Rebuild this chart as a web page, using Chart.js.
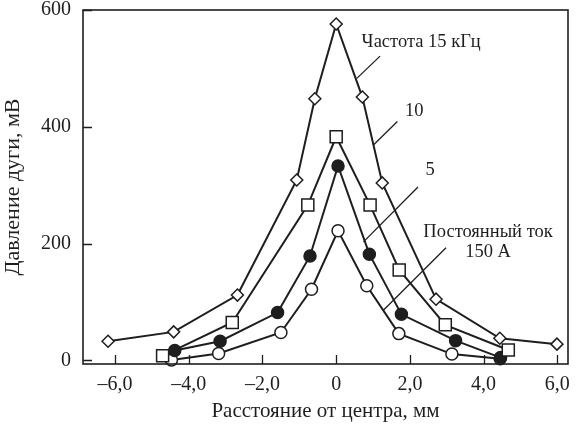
<!DOCTYPE html>
<html>
<head>
<meta charset="utf-8">
<script src="https://cdn.jsdelivr.net/npm/chart.js@4/dist/chart.umd.min.js"></script>
<style>
	html, body { margin: 0; padding: 0; background: #fff; }
	#wrap { width: 578px; height: 424px; }
</style>
</head>
<body>
<div id="wrap"><canvas id="chart"></canvas></div>
<script>
// distance from centre, mm / arc pressure, mV
const freq15X = [-6.19, -4.41, -2.68, -1.07, -0.58, 0.0, 0.71, 1.25, 2.71, 4.44, 5.99];
const freq15Y = [33, 49, 112, 309, 448, 576, 451, 304, 105, 38, 28];
const freq10X = [-4.71, -2.82, -0.77, 0.0, 0.92, 1.71, 2.96, 4.67];
const freq10Y = [8, 65, 266, 383, 266, 155, 61, 18];
const freq5X = [-4.38, -3.15, -1.59, -0.71, 0.05, 0.9, 1.77, 3.24, 4.46];
const freq5Y = [17, 33, 82, 179, 333, 182, 79, 34, 5];
const dcX = [-4.47, -3.19, -1.5, -0.67, 0.05, 0.83, 1.7, 3.14, 4.45];
const dcY = [1, 12, 48, 122, 222, 128, 46, 11, 3];

const xTicks = [-6, -4, -2, 0, 2, 4, 6];
const xTickLabels = ['–6,0', '–4,0', '–2,0', '0', '2,0', '4,0', '6,0'];
const yTicks = [0, 200, 400, 600];
const yTickLabels = ['0', '200', '400', '600'];

const seriesLabels = ['Частота 15 кГц', '10', '5', 'Постоянный ток 150 А'];

// callout labels with leader lines, in data units
const callouts = [
	{ text: ['Частота 15 кГц'], tx: 0.69, ty: 545, align: 'left', line: [1.19, 521, 0.56, 483] },
	{ text: ['10'], tx: 1.87, ty: 427, align: 'left', line: [1.66, 409, 1.01, 369] },
	{ text: ['5'], tx: 2.55, ty: 326, align: 'center', line: [2.22, 297, 0.74, 203] },
	{ text: ['Постоянный ток', '150 А'], tx: 4.12, ty: 220, align: 'center', line: [2.98, 193, 1.28, 86] }
];

const ink = '#1e1e1e';
const serif = '"Liberation Serif", "Times New Roman", serif';

const toPoints = (xs, ys) => xs.map((x, i) => ({ x: x, y: ys[i] }));

const makeSet = (label, xs, ys, style, radius, fill) => ({
	label: label,
	data: toPoints(xs, ys),
	borderColor: ink,
	borderWidth: 2,
	pointStyle: style,
	pointRadius: radius,
	pointHoverRadius: radius,
	pointBackgroundColor: fill,
	pointBorderColor: ink,
	pointBorderWidth: 1.5,
	tension: 0,
	clip: false
});

const framePlugin = {
	id: 'frame',
	afterDraw(chart) {
		const { ctx, chartArea: a, scales } = chart;
		ctx.save();
		ctx.strokeStyle = ink;
		ctx.lineWidth = 1.6;
		ctx.strokeRect(a.left, a.top, a.right - a.left, a.bottom - a.top);

		// inward tick marks
		ctx.lineWidth = 1.3;
		ctx.beginPath();
		xTicks.forEach(v => {
			const px = Math.round(scales.x.getPixelForValue(v)) + 0.5;
			ctx.moveTo(px, a.bottom);
			ctx.lineTo(px, a.bottom - 9);
		});
		yTicks.forEach(v => {
			const py = Math.round(scales.y.getPixelForValue(v)) + 0.5;
			ctx.moveTo(a.left, py);
			ctx.lineTo(a.left + 9, py);
		});
		ctx.stroke();

		// callouts
		ctx.fillStyle = ink;
		ctx.font = '18.5px ' + serif;
		ctx.textBaseline = 'middle';
		callouts.forEach(c => {
			const [x1, y1, x2, y2] = c.line;
			ctx.beginPath();
			ctx.moveTo(scales.x.getPixelForValue(x1), scales.y.getPixelForValue(y1));
			ctx.lineTo(scales.x.getPixelForValue(x2), scales.y.getPixelForValue(y2));
			ctx.stroke();
			ctx.textAlign = c.align;
			const tx = scales.x.getPixelForValue(c.tx);
			const ty = scales.y.getPixelForValue(c.ty);
			c.text.forEach((t, i) => ctx.fillText(t, tx, ty + i * 20));
		});
		ctx.restore();
	}
};

new Chart(document.getElementById('chart'), {
	type: 'line',
	data: {
		datasets: [
			makeSet(seriesLabels[0], freq15X, freq15Y, 'rectRot', 6, '#fff'),
			makeSet(seriesLabels[1], freq10X, freq10Y, 'rect', 8.5, '#fff'),
			makeSet(seriesLabels[2], freq5X, freq5Y, 'circle', 6, ink),
			makeSet(seriesLabels[3], dcX, dcY, 'circle', 6, '#fff')
		]
	},
	options: {
		responsive: true,
		maintainAspectRatio: false,
		animation: false,
		layout: { padding: { left: 0, top: 10, right: 7, bottom: 0 } },
		plugins: {
			legend: { display: false },
			tooltip: { enabled: false }
		},
		scales: {
			x: {
				type: 'linear',
				min: -6.87,
				max: 6.29,
				afterBuildTicks: scale => { scale.ticks = xTicks.map(v => ({ value: v })); },
				afterFit: scale => {
					scale.height = 60;
					scale.paddingLeft = 0;
					scale.paddingRight = 0;
				},
				grid: { display: false, drawTicks: false },
				border: { display: false },
				ticks: {
					padding: 9,
					color: ink,
					font: { family: serif, size: 20 },
					callback: (v) => xTickLabels[xTicks.indexOf(v)]
				},
				title: {
					display: true,
					text: 'Расстояние от центра, мм',
					color: ink,
					font: { family: serif, size: 21 },
					padding: { top: 0, bottom: 0 }
				}
			},
			y: {
				min: -6,
				max: 600,
				afterBuildTicks: scale => { scale.ticks = yTicks.map(v => ({ value: v })); },
				afterFit: scale => {
					scale.width = 83;
					scale.paddingTop = 0;
					scale.paddingBottom = 0;
				},
				grid: { display: false, drawTicks: false },
				border: { display: false },
				ticks: {
					padding: 12,
					color: ink,
					font: { family: serif, size: 20 },
					callback: (v) => yTickLabels[yTicks.indexOf(v)]
				},
				title: {
					display: true,
					text: 'Давление дуги, мВ',
					color: ink,
					font: { family: serif, size: 22 },
					padding: { top: 0, bottom: 2 }
				}
			}
		}
	},
	plugins: [framePlugin]
});
</script>
</body>
</html>
